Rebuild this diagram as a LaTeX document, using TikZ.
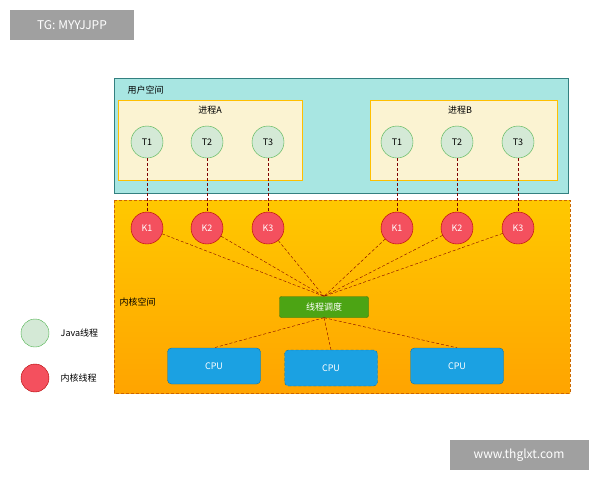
\documentclass[tikz,border=0pt]{standalone}
\usepackage{fontspec}
\setmainfont{Noto Sans CJK SC}
\usetikzlibrary{positioning}
\definecolor{userbg}{HTML}{A8E6E2}
\definecolor{procbg}{HTML}{FBF3D2}
\definecolor{javac}{HTML}{D4E9D6}
\definecolor{kernc}{HTML}{F4505E}
\definecolor{schedc}{HTML}{4CA414}
\definecolor{cpuc}{HTML}{1BA1E2}
\definecolor{markc}{HTML}{A0A0A0}
\definecolor{ktop}{HTML}{FFC800}
\definecolor{kbot}{HTML}{FFA400}
\tikzset{
  jthread/.style={circle,draw=green!40!gray,fill=javac,minimum size=32,inner sep=0pt,font=\small},
  kthread/.style={circle,draw=red!70!black,fill=kernc,minimum size=32,inner sep=0pt,font=\small,text=white},
  cpu/.style={rectangle,rounded corners=4pt,draw=cpuc!70!black,fill=cpuc,text=white,minimum width=93,minimum height=36,font=\small},
  link/.style={densely dashed,draw=red!50!black,thin},
  wmark/.style={fill=markc,text=white,inner sep=0pt,font=\large}
}
\begin{document}
\begin{tikzpicture}[x=1pt,y=-1pt]
\useasboundingbox (0,0) rectangle (600,480);
% spaces
\draw[draw=teal!60!gray,fill=userbg] (114,78) rectangle (568,193);
\node[anchor=west,font=\small] at (124,90) {用户空间};
\draw[draw=orange!50!yellow,fill=procbg] (118,100) rectangle (302,180);
\draw[draw=orange!50!yellow,fill=procbg] (370,100) rectangle (557,180);
\node[font=\small] at (210,110) {进程A};
\node[font=\small] at (460,110) {进程B};
\shade[top color=ktop,bottom color=kbot] (114,200) rectangle (570,393);
\draw[densely dashed,draw=orange!80!black] (114,200) rectangle (570,393);
\node[anchor=west,font=\small] at (116,302) {内核空间};
% threads
\foreach \p/\x in {a/0,b/250}{
  \foreach \i/\dx in {1/147,2/207,3/268}{
    \node[jthread] (t\p\i) at (\x+\dx,142) {T\i};
    \node[kthread] (k\p\i) at (\x+\dx,228) {K\i};
    \draw[link] (t\p\i) -- (k\p\i);
  }
}
\node[rectangle,rounded corners=2pt,draw=schedc!70!black,fill=schedc,text=white,minimum width=89,minimum height=21,font=\small] (sched) at (324,307) {线程调度};
\foreach \p in {a,b}{\foreach \i in {1,2,3}{\draw[link] (k\p\i) -- (sched.north);}}
\node[cpu] (cpu1) at (214,366) {CPU};
\node[cpu,densely dashed] (cpu2) at (331,368) {CPU};
\node[cpu] (cpu3) at (457,366) {CPU};
\foreach \c in {cpu1,cpu2,cpu3}{\draw[link] (sched.south) -- (\c.north);}
% legend
\node[jthread,minimum size=28] (ljava) at (35,333) {};
\node[kthread,minimum size=28] (lkern) at (35,378) {};
\node[right=8pt of ljava,font=\small] {Java线程};
\node[right=8pt of lkern,font=\small] {内核线程};
% marks
\node[wmark,minimum width=124,minimum height=30] (tg) at (72,25) {TG: MYYJJPP};
\node[wmark,minimum width=139,minimum height=30] (www) at (519,455) {www.thglxt.com};
\end{tikzpicture}
\end{document}
